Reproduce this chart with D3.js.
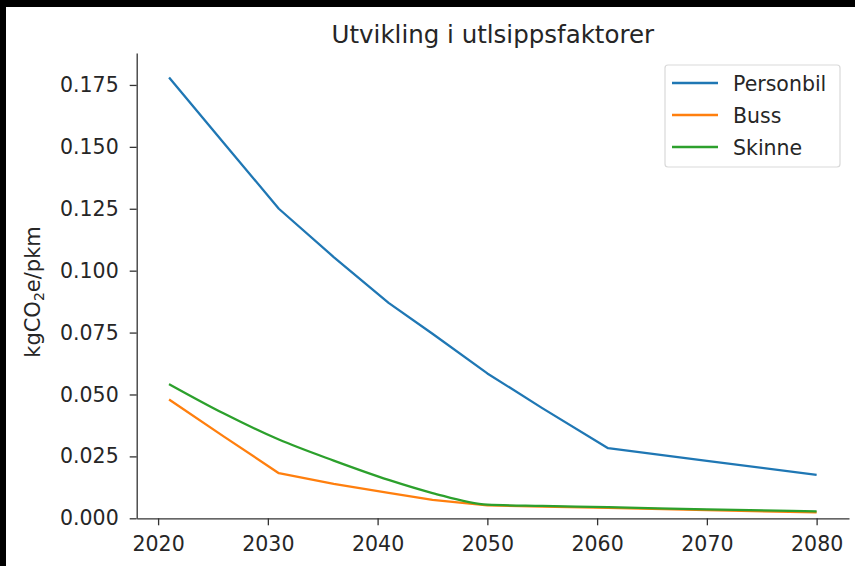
<!DOCTYPE html>
<html>
<head>
<meta charset="utf-8">
<script src="https://cdn.jsdelivr.net/npm/d3@7"></script>
<style>
  html, body { margin: 0; padding: 0; background: #fff; }
  svg { display: block; }
  text { font-family: "DejaVu Sans", sans-serif; fill: #262626; }
</style>
</head>
<body>
<div id="chart"></div>
<script>
// values
const years = [2021, 2026, 2031, 2036, 2041, 2045, 2050, 2055, 2061, 2070, 2080];
const personbil = [0.178, 0.1515, 0.125, 0.1055, 0.087, 0.0745, 0.0585, 0.0445, 0.0283, 0.0232, 0.0175];
const buss = [0.048, 0.033, 0.0182, 0.0139, 0.0103, 0.0074, 0.0052, 0.0047, 0.0042, 0.0033, 0.0024];
const skinne = [0.0542, 0.0423, 0.0318, 0.0233, 0.0155, 0.0102, 0.0055, 0.005, 0.0045, 0.0036, 0.0028];
const seriesNames = ["Personbil", "Buss", "Skinne"];
const seriesColors = ["#1f77b4", "#ff7f0e", "#2ca02c"];
const yTicks = [0, 0.025, 0.05, 0.075, 0.1, 0.125, 0.15, 0.175];
const xTicks = [2020, 2030, 2040, 2050, 2060, 2070, 2080];

const width = 855, height = 566;
const mLeft = 136.7, mRight = 849, mTop = 53, mBottom = 518.3;

const svg = d3.select("#chart").append("svg").attr("width", width).attr("height", height);
svg.append("rect").attr("width", width).attr("height", height).attr("fill", "#fff");
// black edge on the screenshot (top and left)
svg.append("rect").attr("x", 0).attr("y", 0).attr("width", width).attr("height", 7).attr("fill", "#000");
svg.append("rect").attr("x", 0).attr("y", 0).attr("width", 6).attr("height", height).attr("fill", "#000");

const x = d3.scaleLinear().domain([2018.05, 2082.95]).range([mLeft, mRight]);
const y = d3.scaleLinear().domain([0, 0.1879]).range([mBottom, mTop]);

// axes
const xAxis = svg.append("g").attr("transform", `translate(0,${mBottom})`)
    .call(d3.axisBottom(x).tickValues(xTicks).tickFormat(d3.format("d")).tickSize(7).tickSizeOuter(0).tickPadding(11));
const yAxis = svg.append("g").attr("transform", `translate(${mLeft},0)`)
    .call(d3.axisLeft(y).tickValues(yTicks).tickFormat(d3.format(".3f")).tickSize(7).tickSizeOuter(0).tickPadding(11));
[xAxis, yAxis].forEach(g => {
    g.select(".domain").attr("stroke", "#333").attr("stroke-width", 1.3);
    g.selectAll(".tick line").attr("stroke", "#333").attr("stroke-width", 1.3);
    g.selectAll(".tick text").attr("font-size", 20.5).attr("font-family", "DejaVu Sans").attr("fill", "#262626");
});

// lines
const data = [personbil, buss, skinne];
const curves = [d3.curveLinear, d3.curveLinear, d3.curveMonotoneX];
data.forEach((vals, k) => {
    const line = d3.line().x((d, i) => x(years[i])).y(d => y(d)).curve(curves[k]);
    svg.append("path").datum(vals)
        .attr("fill", "none")
        .attr("stroke", seriesColors[k])
        .attr("stroke-width", 2.3)
        .attr("stroke-linejoin", "round")
        .attr("d", line);
});

// title
svg.append("text").attr("x", (mLeft + mRight) / 2).attr("y", 43)
    .attr("text-anchor", "middle").attr("font-size", 24.5)
    .text("Utvikling i utlsippsfaktorer");

// y label
svg.append("text")
    .attr("transform", `translate(40,292) rotate(-90)`)
    .attr("text-anchor", "middle").attr("font-size", 21)
    .html('kgCO<tspan font-size="14" dy="4">2</tspan><tspan dy="-4">e/pkm</tspan>');

// legend
const lg = svg.append("g");
lg.append("rect").attr("x", 665).attr("y", 65).attr("width", 175).attr("height", 102)
    .attr("rx", 3).attr("fill", "#fff").attr("stroke", "#d9d9d9").attr("stroke-width", 1.2);
seriesNames.forEach((name, i) => {
    const ly = 83 + i * 32;
    lg.append("line").attr("x1", 672).attr("x2", 718).attr("y1", ly).attr("y2", ly)
        .attr("stroke", seriesColors[i]).attr("stroke-width", 2.3);
    lg.append("text").attr("x", 733).attr("y", ly + 7.5).attr("font-size", 20.5).text(name);
});
</script>
</body>
</html>
